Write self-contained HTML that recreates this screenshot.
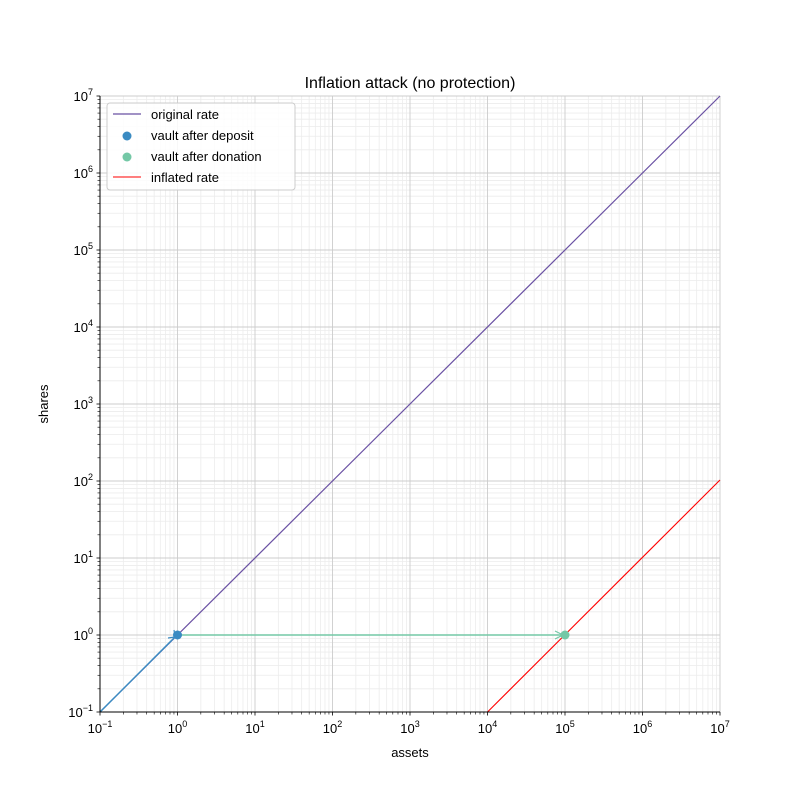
<!DOCTYPE html><html><head><style>body{margin:0;background:#fff}svg{display:block;font-family:"Liberation Sans","DejaVu Sans",sans-serif}</style></head><body>
<svg id="s" width="800" height="800" xmlns="http://www.w3.org/2000/svg">
<rect width="800" height="800" fill="#fff"/>
<g id="grid"></g>
<line x1="100" y1="712" x2="720" y2="96" stroke="#6a51a3" stroke-width="1.2"/>
<line x1="487.5" y1="712" x2="720" y2="480" stroke="#ff0000" stroke-width="1.1"/>
<line x1="100" y1="712" x2="175" y2="637" stroke="#3a8bc2" stroke-width="1.5"/>
<path d="M168,638 L175,637 L174,630" fill="none" stroke="#3a8bc2" stroke-width="1.2"/>
<line x1="178" y1="635" x2="563" y2="635" stroke="#74c8a6" stroke-width="1.5"/>
<path d="M555,631 L563,635 L555,639" fill="none" stroke="#74c8a6" stroke-width="1.2"/>
<circle cx="177.5" cy="635" r="4.5" fill="#3a8bc2"/>
<circle cx="565" cy="635" r="4.5" fill="#74c8a6"/>
<g id="ax"></g>
<text x="410" y="88" font-size="16" text-anchor="middle">Inflation attack (no protection)</text>
<text x="410" y="757" font-size="13" text-anchor="middle">assets</text>
<text x="48" y="404" font-size="13" text-anchor="middle" transform="rotate(-90 48 404)">shares</text>
<rect x="107" y="103" width="188" height="87" rx="3" fill="#fff" fill-opacity="0.85" stroke="#ccc"/>
<line x1="113" y1="114" x2="141" y2="114" stroke="#6a51a3" stroke-width="1.2"/>
<text x="151" y="119" font-size="13">original rate</text>
<circle cx="127" cy="136" r="4.5" fill="#3a8bc2"/>
<text x="151" y="140" font-size="13">vault after deposit</text>
<circle cx="127" cy="157" r="4.5" fill="#74c8a6"/>
<text x="151" y="161" font-size="13">vault after donation</text>
<line x1="113" y1="177" x2="141" y2="177" stroke="#ff0000" stroke-width="1.1"/>
<text x="151" y="182" font-size="13">inflated rate</text>
</svg>
<script>
var ns="http://www.w3.org/2000/svg",g=document.getElementById('grid'),a=document.getElementById('ax');
function L(p,x1,y1,x2,y2,c,w){var l=document.createElementNS(ns,'line');l.setAttribute('x1',x1);l.setAttribute('y1',y1);l.setAttribute('x2',x2);l.setAttribute('y2',y2);l.setAttribute('stroke',c);l.setAttribute('stroke-width',w);p.appendChild(l);}
function T(x,y,s,anc){var t=document.createElementNS(ns,'text');t.setAttribute('x',x);t.setAttribute('y',y);t.setAttribute('font-size','13');t.setAttribute('text-anchor',anc);t.innerHTML=s;a.appendChild(t);}
for(var d=0;d<8;d++){for(var k=2;k<10;k++){var f=Math.log10(k);var x=100+(d+f)*77.5,y=712-(d+f)*77;L(g,x,96,x,712,'#ececec',0.8);L(g,100,y,720,y,'#ececec',0.8);L(a,x,712,x,714.5,'#000',0.6);L(a,97.5,y,100,y,'#000',0.6);}}
for(var d=0;d<=8;d++){var x=100+d*77.5,y=712-d*77;L(g,x,96,x,712,'#cccccc',0.9);L(g,100,y,720,y,'#cccccc',0.9);L(a,x,712,x,715.5,'#000',0.8);L(a,96.5,y,100,y,'#000',0.8);
var e=d-1;T(x,733,'10<tspan dy="-6" font-size="9">'+(e<0?'\u22121':e)+'</tspan>','middle');T(93,y+5,'10<tspan dy="-6" font-size="9">'+(e<0?'\u22121':e)+'</tspan>','end');}
L(a,100,96,100,712,'#000',1);L(a,100,712,720,712,'#000',1);
</script>
</body></html>
